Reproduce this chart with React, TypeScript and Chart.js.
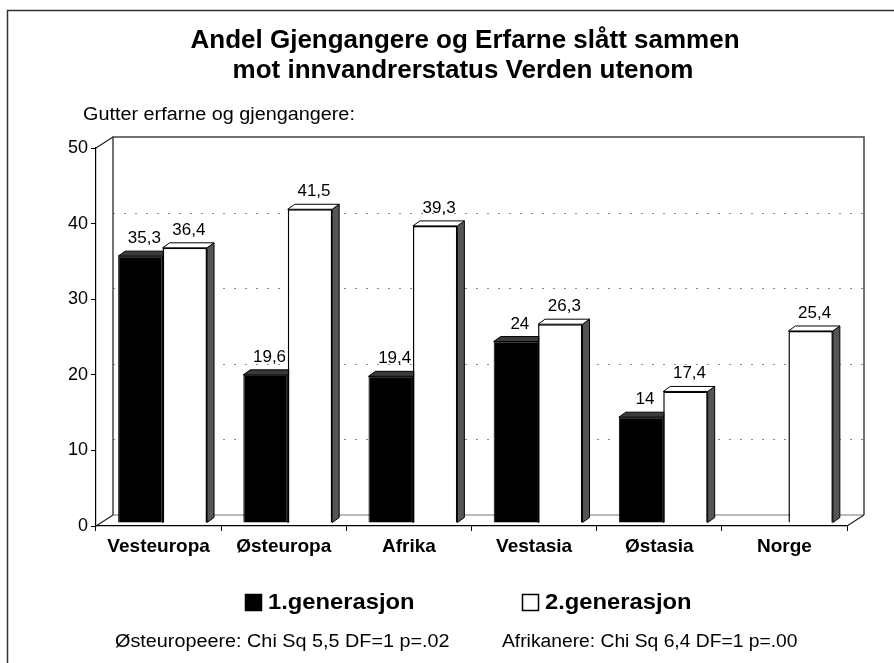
import React, { useEffect, useRef } from "react";
import { Chart, registerables } from "chart.js";

Chart.register(...registerables);

const categories = ["Vesteuropa", "Østeuropa", "Afrika", "Vestasia", "Østasia", "Norge"];
const gen1 = [35.3, 19.6, 19.4, 24, 14, null];
const gen2 = [36.4, 41.5, 39.3, 26.3, 17.4, 25.4];
const seriesNames = ["1.generasjon", "2.generasjon"];
const titleLines = ["Andel Gjengangere og Erfarne slått sammen", "mot innvandrerstatus Verden utenom"];
const subtitle = "Gutter erfarne og gjengangere:";
const footnotes = ["Østeuropeere: Chi Sq 5,5 DF=1 p=.02", "Afrikanere: Chi Sq 6,4 DF=1 p=.00"];
const yMin = 0;
const yMax = 50;
const yStep = 10;

const FONT = "'Liberation Sans', Arial, Helvetica, sans-serif";
const DX = 17; // back wall depth offset
const DY = -11;
const BX = 4; // bar plane offset
const BY = -3;
const BD = 7; // bar depth
const BDV = 5;

function drawText(ctx: CanvasRenderingContext2D, s: string, x: number, y: number, font: string, align: CanvasTextAlign, sx = 1) {
  ctx.save();
  ctx.translate(x, y);
  ctx.scale(sx, 1);
  ctx.font = font;
  ctx.fillStyle = "#000";
  ctx.textAlign = align;
  ctx.textBaseline = "alphabetic";
  ctx.fillText(s, 0, 0);
  ctx.restore();
}

const fmt = (v: number) => String(v).replace(".", ",");

const threeD = {
  id: "threeD",
  beforeDraw(chart: any) {
    const ctx = chart.ctx as CanvasRenderingContext2D;
    ctx.save();
    ctx.fillStyle = "#fff";
    ctx.fillRect(0, 0, chart.width, chart.height);
    ctx.restore();
  },
  beforeDatasetsDraw(chart: any) {
    const ctx = chart.ctx as CanvasRenderingContext2D;
    const { left: L, right: R, top: T, bottom: B } = chart.chartArea;
    const y = chart.scales.y;
    ctx.save();
    // gridlines on back wall
    ctx.strokeStyle = "#8a8a8a";
    ctx.lineWidth = 1;
    ctx.setLineDash([2, 9]);
    for (let v = yMin + yStep; v < yMax; v += yStep) {
      const py = Math.round(y.getPixelForValue(v) + DY) + 0.5;
      ctx.beginPath();
      ctx.moveTo(L + DX, py);
      ctx.lineTo(R + DX, py);
      ctx.stroke();
    }
    ctx.setLineDash([]);
    // floor back line
    ctx.strokeStyle = "#777";
    ctx.lineWidth = 1.2;
    ctx.beginPath();
    ctx.moveTo(L + DX, B + DY);
    ctx.lineTo(R + DX, B + DY);
    ctx.stroke();
    // back wall frame
    ctx.strokeStyle = "#444";
    ctx.lineWidth = 1.5;
    ctx.beginPath();
    ctx.moveTo(L + DX, B + DY);
    ctx.lineTo(L + DX, T + DY);
    ctx.lineTo(R + DX, T + DY);
    ctx.lineTo(R + DX, B + DY);
    ctx.stroke();
    // diagonals
    ctx.strokeStyle = "#222";
    ctx.lineWidth = 1.2;
    ctx.beginPath();
    ctx.moveTo(L, T);
    ctx.lineTo(L + DX, T + DY);
    ctx.moveTo(L, B);
    ctx.lineTo(L + DX, B + DY);
    ctx.moveTo(R, B);
    ctx.lineTo(R + DX, B + DY);
    ctx.stroke();

    // bar top and side faces
    chart.data.datasets.forEach((ds: any, di: number) => {
      const meta = chart.getDatasetMeta(di);
      meta.data.forEach((el: any, i: number) => {
        const v = ds.data[i];
        if (v === null || v === undefined) return;
        const x0 = el.x - el.width / 2 + BX;
        const x1 = el.x + el.width / 2 + BX;
        const top = el.y + BY;
        const base = el.base + BY;
        ctx.lineWidth = 1;
        ctx.strokeStyle = "#000";
        // side
        ctx.beginPath();
        ctx.moveTo(x1, top);
        ctx.lineTo(x1 + BD, top - BDV);
        ctx.lineTo(x1 + BD, base - BDV);
        ctx.lineTo(x1, base);
        ctx.closePath();
        ctx.fillStyle = "#555";
        ctx.fill();
        ctx.stroke();
        // top
        ctx.beginPath();
        ctx.moveTo(x0, top);
        ctx.lineTo(x0 + BD, top - BDV);
        ctx.lineTo(x1 + BD, top - BDV);
        ctx.lineTo(x1, top);
        ctx.closePath();
        ctx.fillStyle = di === 0 ? "#3a3a3a" : "#fff";
        ctx.fill();
        ctx.stroke();
      });
    });
    ctx.restore();
    ctx.save();
    ctx.translate(BX, BY);
  },
  afterDatasetsDraw(chart: any) {
    const ctx = chart.ctx as CanvasRenderingContext2D;
    ctx.restore();
    chart.data.datasets.forEach((ds: any, di: number) => {
      const meta = chart.getDatasetMeta(di);
      meta.data.forEach((el: any, i: number) => {
        const v = ds.data[i];
        if (v === null || v === undefined) return;
        drawText(ctx, fmt(v), el.x + BX + 4, el.y + BY - 13, `17px ${FONT}`, "center");
      });
    });
  },
  afterDraw(chart: any) {
    const ctx = chart.ctx as CanvasRenderingContext2D;
    // outer border (cropped at right/bottom)
    ctx.save();
    ctx.strokeStyle = "#333";
    ctx.lineWidth = 1.5;
    ctx.beginPath();
    ctx.moveTo(7.5, chart.height + 2);
    ctx.lineTo(7.5, 10.5);
    ctx.lineTo(chart.width + 2, 10.5);
    ctx.stroke();
    ctx.restore();
    // titles
    drawText(ctx, titleLines[0], 465, 48, `bold 26px ${FONT}`, "center");
    drawText(ctx, titleLines[1], 463, 78, `bold 26px ${FONT}`, "center");
    drawText(ctx, subtitle, 83, 120, `18px ${FONT}`, "left", 1.1);
    // legend
    const lx = [245, 522];
    chart.data.datasets.forEach((ds: any, di: number) => {
      ctx.save();
      ctx.fillStyle = ds.backgroundColor;
      ctx.strokeStyle = "#000";
      ctx.lineWidth = 1.5;
      ctx.fillRect(lx[di], 594, 16, 16);
      ctx.strokeRect(lx[di] + 0.5, 594.5, 16, 16);
      ctx.restore();
      drawText(ctx, ds.label, lx[di] + 23, 609, `bold 22px ${FONT}`, "left", 1.08);
    });
    // footnotes
    drawText(ctx, footnotes[0], 115, 647, `18px ${FONT}`, "left", 1.1);
    drawText(ctx, footnotes[1], 502, 647, `18px ${FONT}`, "left", 1.07);
  },
};

export default function App() {
  const ref = useRef<HTMLCanvasElement | null>(null);
  useEffect(() => {
    if (!ref.current) return;
    const chart = new Chart(ref.current, {
      type: "bar",
      data: {
        labels: categories,
        datasets: [
          {
            label: seriesNames[0],
            data: gen1,
            backgroundColor: "#000",
            borderColor: "#000",
            borderWidth: 1,
            categoryPercentage: 0.71,
            barPercentage: 1,
          },
          {
            label: seriesNames[1],
            data: gen2,
            backgroundColor: "#fff",
            borderColor: "#000",
            borderWidth: 1.5,
            categoryPercentage: 0.71,
            barPercentage: 1,
          },
        ],
      },
      options: {
        responsive: false,
        animation: false,
        layout: { padding: { left: 0, right: 47, top: 148, bottom: 97 } },
        plugins: {
          legend: { display: false },
          title: { display: false },
          tooltip: { enabled: false },
        },
        scales: {
          x: {
            grid: { display: true, drawOnChartArea: false, drawTicks: true, tickLength: 5, color: "#000", offset: true },
            border: { display: true, color: "#000", width: 1.2 },
            ticks: { color: "#000", font: { family: FONT, size: 19, weight: "bold" }, padding: 4, maxRotation: 0, autoSkip: false },
            afterFit: (s: any) => {
              s.height = 40;
            },
          },
          y: {
            min: yMin,
            max: yMax,
            grid: { display: true, drawOnChartArea: false, drawTicks: true, tickLength: 5, color: "#000" },
            border: { display: true, color: "#000", width: 1.2 },
            ticks: { stepSize: yStep, color: "#000", font: { family: FONT, size: 18 }, padding: 3 },
            afterFit: (s: any) => {
              s.width = 96;
            },
          },
        },
      },
      plugins: [threeD],
    } as any);
    return () => chart.destroy();
  }, []);
  return (
    <div style={{ position: "fixed", left: 0, top: 0, width: 894, height: 663, background: "#fff" }}>
      <canvas ref={ref} width={894} height={663} style={{ display: "block", width: 894, height: 663 }} />
    </div>
  );
}
